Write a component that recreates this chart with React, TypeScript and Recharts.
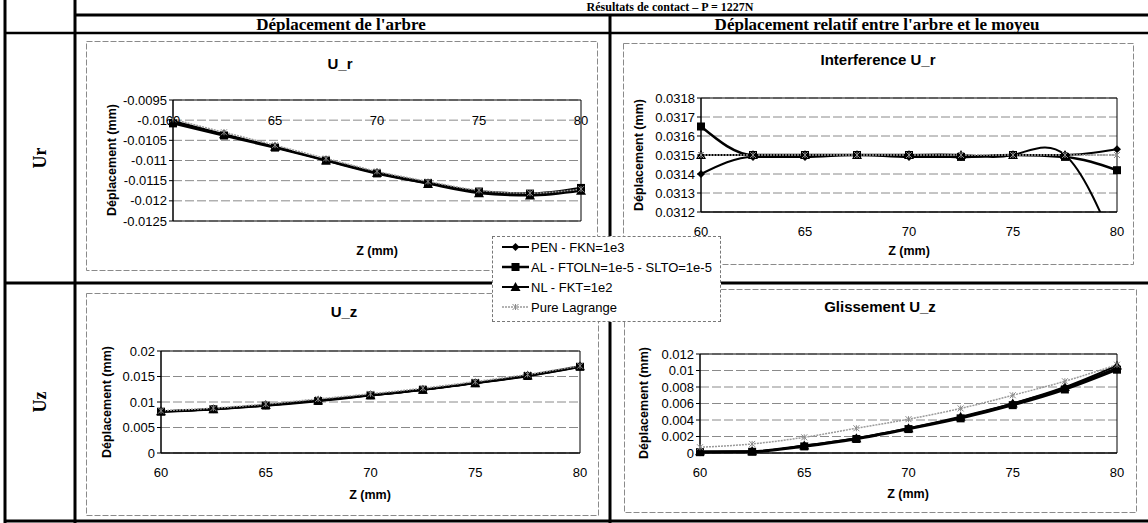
import {
  CartesianGrid,
  Line,
  LineChart,
  ReferenceArea,
  ReferenceDot,
  XAxis,
  YAxis,
} from 'recharts'

// abscissa (Z, mm)
const zValues = [60, 62.5, 65, 67.5, 70, 72.5, 75, 77.5, 80]
const zTicks = [60, 65, 70, 75, 80]

// U_r (shaft)
const urPen = [-0.01004, -0.01036, -0.01067, -0.01099, -0.0113, -0.01155, -0.01177, -0.01184, -0.01171]
const urAl = [-0.01008, -0.01038, -0.01068, -0.011, -0.01132, -0.01156, -0.01177, -0.01182, -0.01168]
const urNl = [-0.01002, -0.01035, -0.01066, -0.011, -0.01131, -0.01158, -0.01181, -0.01187, -0.01175]
const urPure = [-0.00998, -0.0103, -0.01062, -0.01095, -0.01127, -0.01152, -0.01174, -0.01181, -0.01171]
const urTicks = [-0.0125, -0.012, -0.0115, -0.011, -0.0105, -0.01, -0.0095]

// Interference U_r
const intPen = [0.0314, 0.03149, 0.03149, 0.0315, 0.03149, 0.03149, 0.0315, 0.0315, 0.03153]
const intAl = [0.03165, 0.0315, 0.0315, 0.0315, 0.0315, 0.03149, 0.0315, 0.03149, 0.03142]
const intNl = [0.0315, 0.0315, 0.0315, 0.0315, 0.0315, 0.0315, 0.0315, 0.0315, 0.031]
const intPure = [0.0315, 0.0315, 0.0315, 0.0315, 0.0315, 0.0315, 0.0315, 0.0315, 0.0315]
const intTicks = [0.0312, 0.0313, 0.0314, 0.0315, 0.0316, 0.0317, 0.0318]

// U_z (shaft)
const uzPen = [0.0082, 0.0086, 0.0093, 0.0103, 0.0113, 0.0124, 0.0137, 0.0151, 0.0169]
const uzAl = [0.0081, 0.0086, 0.0093, 0.0102, 0.0113, 0.0124, 0.0137, 0.0151, 0.0169]
const uzNl = [0.0082, 0.0086, 0.0094, 0.0103, 0.0113, 0.0124, 0.0137, 0.0152, 0.017]
const uzPure = [0.0083, 0.0088, 0.0096, 0.0106, 0.0116, 0.0127, 0.014, 0.0154, 0.0171]
const uzTicks = [0, 0.005, 0.01, 0.015, 0.02]

// Glissement U_z
const glPen = [0.0001, 0.0002, 0.0009, 0.0018, 0.003, 0.0043, 0.006, 0.0079, 0.0103]
const glAl = [0.0001, 0.00015, 0.0008, 0.0017, 0.0029, 0.0042, 0.0058, 0.0077, 0.0101]
const glNl = [0.0002, 0.0002, 0.0009, 0.0018, 0.003, 0.0044, 0.006, 0.008, 0.0106]
const glPure = [0.0007, 0.0011, 0.0019, 0.003, 0.0041, 0.0054, 0.007, 0.0087, 0.0107]
const glTicks = [0, 0.002, 0.004, 0.006, 0.008, 0.01, 0.012]

const seriesNames = ['PEN - FKN=1e3', 'AL - FTOLN=1e-5 - SLTO=1e-5', 'NL - FKT=1e2', 'Pure Lagrange']

type Shape = 'diamond' | 'square' | 'triangle' | 'star'

const series: { key: string; shape: Shape; width: number; color: string; dash?: string }[] = [
  { key: 'pen', shape: 'diamond', width: 2, color: '#000' },
  { key: 'al', shape: 'square', width: 2.5, color: '#000' },
  { key: 'nl', shape: 'triangle', width: 2, color: '#000' },
  { key: 'pure', shape: 'star', width: 1.5, color: '#9a9a9a', dash: '2 1' },
]

const sans = '"Liberation Sans", Arial, sans-serif'
const serif = '"Liberation Serif", "Times New Roman", serif'

function toRows(pen: number[], al: number[], nl: number[], pure: number[]) {
  return zValues.map((z, i) => ({ z, pen: pen[i], al: al[i], nl: nl[i], pure: pure[i] }))
}

function Marker({ cx, cy, shape }: { cx?: number; cy?: number; shape: Shape }) {
  if (cx == null || cy == null || Number.isNaN(cx) || Number.isNaN(cy)) return <g />
  if (shape === 'diamond')
    return <polygon points={`${cx},${cy - 4} ${cx + 4},${cy} ${cx},${cy + 4} ${cx - 4},${cy}`} fill="#000" />
  if (shape === 'square') return <rect x={cx - 4} y={cy - 4} width={8} height={8} fill="#000" />
  if (shape === 'triangle')
    return <polygon points={`${cx},${cy - 5} ${cx + 5},${cy + 4} ${cx - 5},${cy + 4}`} fill="#000" />
  return (
    <path
      d={`M${cx - 3},${cy - 3}L${cx + 3},${cy + 3}M${cx - 3},${cy + 3}L${cx + 3},${cy - 3}M${cx},${cy - 3}L${cx},${cy + 3}`}
      stroke="#8a8a8a"
      strokeWidth={1}
    />
  )
}

interface PanelProps {
  rows: ReturnType<typeof toRows>
  left: number
  top: number
  width: number
  height: number
  margin: { top: number; right: number; left: number; bottom: number }
  yWidth: number
  yTicks: number[]
  clip?: boolean
  nlCurve?: 'monotone' | 'natural'
  inlineAt?: number
}

function Panel({ rows, left, top, width, height, margin, yWidth, yTicks, clip, nlCurve, inlineAt }: PanelProps) {
  const yMin = yTicks[0]
  const yMax = yTicks[yTicks.length - 1]
  return (
    <div style={{ position: 'absolute', left, top, width, height }}>
      <LineChart width={width} height={height} data={rows} margin={margin}>
        <CartesianGrid vertical={false} stroke="#8a8a8a" strokeDasharray="9 3" />
        <XAxis
          dataKey="z"
          type="number"
          domain={[60, 80]}
          ticks={zTicks}
          interval={0}
          hide={inlineAt !== undefined}
          height={30}
          tickSize={0}
          tickMargin={15}
          axisLine={{ stroke: '#000' }}
          tick={{ fontSize: 13, fill: '#000', fontFamily: sans }}
        />
        <YAxis
          type="number"
          domain={[yMin, yMax]}
          ticks={yTicks}
          interval={0}
          allowDataOverflow={clip}
          width={yWidth}
          tickSize={4}
          tickMargin={2}
          axisLine={{ stroke: '#000' }}
          tickLine={{ stroke: '#000' }}
          tickFormatter={(v: number) => String(v)}
          tick={{ fontSize: 13, fill: '#000', fontFamily: sans }}
        />
        <ReferenceArea x1={60} x2={80} y1={yMin} y2={yMax} fill="none" stroke="#000" strokeWidth={1} />
        {inlineAt !== undefined &&
          zTicks.map((t) => (
            <ReferenceDot
              key={t}
              x={t}
              y={inlineAt}
              r={0}
              stroke="none"
              label={{ value: String(t), position: 'center', fill: '#000', fontSize: 13, fontFamily: sans }}
            />
          ))}
        {series.map((s) => (
          <Line
            key={s.key}
            dataKey={s.key}
            type={s.key === 'nl' && nlCurve ? nlCurve : 'monotone'}
            stroke={s.color}
            strokeWidth={s.width}
            strokeDasharray={s.dash}
            isAnimationActive={false}
            dot={(p: any) => <Marker key={`${s.key}-${p.index}`} cx={p.cx} cy={p.cy} shape={s.shape} />}
            activeDot={false}
          />
        ))}
      </LineChart>
    </div>
  )
}

function VTitle({ x, y, text }: { x: number; y: number; text: string }) {
  return (
    <text
      x={x}
      y={y}
      transform={`rotate(-90 ${x} ${y})`}
      textAnchor="middle"
      dominantBaseline="central"
      fontFamily={sans}
      fontWeight="bold"
      fontSize={12.5}
    >
      {text}
    </text>
  )
}

function HText({ x, y, text, size = 12.5 }: { x: number; y: number; text: string; size?: number }) {
  return (
    <text x={x} y={y} textAnchor="middle" dominantBaseline="central" fontFamily={sans} fontWeight="bold" fontSize={size}>
      {text}
    </text>
  )
}

function Legend() {
  return (
    <div
      style={{
        position: 'absolute',
        left: 492,
        top: 236,
        width: 229,
        height: 86,
        boxSizing: 'border-box',
        border: '1px dashed #777',
        background: '#fff',
        fontFamily: sans,
        fontSize: 13,
      }}
    >
      {series.map((s, i) => (
        <div key={s.key} style={{ position: 'absolute', left: 9, top: 1 + i * 20, height: 18, display: 'flex', alignItems: 'center' }}>
          <svg width={28} height={12} style={{ display: 'block' }}>
            <line x1={0} y1={6} x2={27} y2={6} stroke={s.color} strokeWidth={s.width} strokeDasharray={s.dash} />
            <Marker cx={13.5} cy={6} shape={s.shape} />
          </svg>
          <span style={{ whiteSpace: 'nowrap', marginLeft: 1 }}>{seriesNames[i]}</span>
        </div>
      ))}
    </div>
  )
}

export default function App() {
  const urRows = toRows(urPen, urAl, urNl, urPure)
  const intRows = toRows(intPen, intAl, intNl, intPure)
  const uzRows = toRows(uzPen, uzAl, uzNl, uzPure)
  const glRows = toRows(glPen, glAl, glNl, glPure)

  return (
    <div style={{ position: 'absolute', left: 0, top: 0, width: 1148, height: 523, background: '#fff', overflow: 'hidden' }}>
      <Panel rows={urRows} left={86} top={41} width={512} height={230} margin={{ top: 59, right: 17, left: 25, bottom: 50 }} yWidth={62} yTicks={urTicks} inlineAt={-0.01} />
      <Panel rows={intRows} left={623} top={43} width={511} height={222} margin={{ top: 55, right: 17, left: 20, bottom: 23 }} yWidth={58} yTicks={intTicks} clip nlCurve="natural" />
      <Panel rows={uzRows} left={86} top={293} width={513} height={223} margin={{ top: 58, right: 19, left: 25, bottom: 33 }} yWidth={50} yTicks={uzTicks} />
      <Panel rows={glRows} left={624} top={289} width={513} height={224} margin={{ top: 65, right: 20, left: 20, bottom: 30 }} yWidth={56} yTicks={glTicks} />

      <svg width={1148} height={523} style={{ position: 'absolute', left: 0, top: 0, pointerEvents: 'none' }}>
        {/* chart frames */}
        <g fill="none" stroke="#8a8a8a" strokeWidth={1} strokeDasharray="6 2">
          <rect x={86.5} y={41.5} width={511} height={229} />
          <rect x={623.5} y={43.5} width={510} height={221} />
          <rect x={86.5} y={293.5} width={512} height={222} />
          <rect x={624.5} y={289.5} width={512} height={223} />
        </g>

        {/* table */}
        <g stroke="#000">
          <line x1={75} y1={15} x2={1148} y2={15} strokeWidth={3} />
          <line x1={5} y1={33} x2={1148} y2={33} strokeWidth={2.5} />
          <line x1={5} y1={283} x2={1148} y2={283} strokeWidth={3} />
          <line x1={5} y1={521} x2={1148} y2={521} strokeWidth={3} />
          <line x1={5} y1={0} x2={5} y2={523} strokeWidth={3} />
          <line x1={75} y1={0} x2={75} y2={523} strokeWidth={3} />
          <line x1={610} y1={15} x2={610} y2={523} strokeWidth={3} />
        </g>

        <text x={670} y={11} textAnchor="middle" fontFamily={serif} fontWeight="bold" fontSize={12}>
          Résultats de contact – P = 1227N
        </text>
        <text x={341} y={24} textAnchor="middle" dominantBaseline="central" fontFamily={serif} fontWeight="bold" fontSize={17}>
          Déplacement de l'arbre
        </text>
        <text x={877} y={24} textAnchor="middle" dominantBaseline="central" fontFamily={serif} fontWeight="bold" fontSize={17}>
          Déplacement relatif entre l'arbre et le moyeu
        </text>
        <text x={40} y={158} transform="rotate(-90 40 158)" textAnchor="middle" dominantBaseline="central" fontFamily={serif} fontWeight="bold" fontSize={18}>
          Ur
        </text>
        <text x={40} y={402} transform="rotate(-90 40 402)" textAnchor="middle" dominantBaseline="central" fontFamily={serif} fontWeight="bold" fontSize={18}>
          Uz
        </text>

        {/* chart titles */}
        <HText x={340} y={63} text="U_r" size={15} />
        <HText x={878} y={59} text="Interference U_r" size={15} />
        <HText x={344} y={311} text="U_z" size={15} />
        <HText x={880} y={306} text="Glissement U_z" size={15} />

        {/* axis titles */}
        <HText x={377} y={251} text="Z (mm)" />
        <HText x={909} y={251} text="Z (mm)" />
        <HText x={370} y={495} text="Z (mm)" />
        <HText x={908} y={494} text="Z (mm)" />
        <VTitle x={112} y={160} text="Déplacement (mm)" />
        <VTitle x={639} y={155} text="Déplacement (mm)" />
        <VTitle x={107} y={402} text="Déplacement (mm)" />
        <VTitle x={644} y={403} text="Déplacement (mm)" />
      </svg>

      <Legend />
    </div>
  )
}
